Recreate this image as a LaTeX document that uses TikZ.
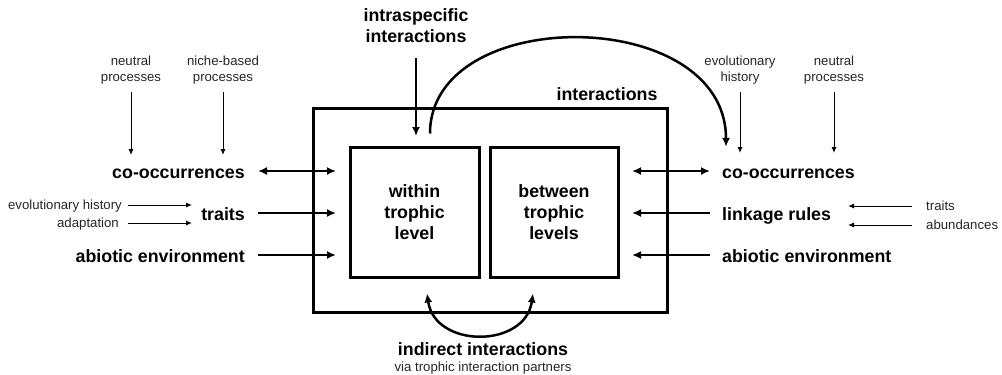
\documentclass[tikz,border=0pt]{standalone}
\usepackage{fontspec}
\setmainfont{Liberation Sans}
\usetikzlibrary{arrows.meta}
\begin{document}
\begin{tikzpicture}[x=1pt,y=-1pt,
  every node/.style={inner sep=0pt},
  bigfont/.style={font=\fontsize{17.8}{21}\selectfont\bfseries},
  smallfont/.style={font=\fontsize{13.2}{16}\selectfont, text=black!85},
  biglabel/.style={bigfont, text height=14pt, text depth=0pt},
  bigtext/.style={bigfont, align=center},
  smalllabel/.style={smallfont, text height=9.5pt, text depth=0pt},
  smalltext/.style={smallfont, align=center},
  boxst/.style={draw, line width=3pt},
  thickarr/.style={line width=2.5pt, -{Latex[length=9pt,width=8pt]}},
  thickdbl/.style={line width=2.5pt, {Latex[length=9pt,width=8pt]}-{Latex[length=9pt,width=8pt]}},
  thinarr/.style={line width=1pt, -{Latex[length=6pt,width=5pt]}},
]
\useasboundingbox (0,0) rectangle (1002,375);

% interaction boxes
\node[boxst, minimum width=354pt, minimum height=204pt] (outer) at (490,210) {};
\node[boxst, bigtext, minimum width=129pt, minimum height=130pt] (within) at (414.5,212) {within\\trophic\\level};
\node[boxst, bigtext, minimum width=128pt, minimum height=130pt] (between) at (554,212) {between\\trophic\\levels};
\node[bigfont, anchor=base] (intlab) at (607,100) {interactions};

% intraspecific interactions
\node[bigtext] (intra) at (416,26) {intraspecific\\interactions};
\coordinate (intraend) at (416,136);
\draw[thickarr] ([yshift=-15pt]intra.south) -- (intraend);

% left-hand drivers
\node[biglabel, anchor=east] (coocL) at (245,171) {co-occurrences};
\node[biglabel, anchor=east] (traitsL) at (245,213) {traits};
\node[biglabel, anchor=east] (abioL) at (245,255) {abiotic environment};
\coordinate (inL1) at (336,171);
\coordinate (inL2) at (336,213);
\coordinate (inL3) at (336,255);
\draw[thickdbl] ([xshift=13pt]coocL.east) -- (inL1);
\draw[thickarr] ([xshift=13pt]traitsL.east) -- (inL2);
\draw[thickarr] ([xshift=13pt]abioL.east) -- (inL3);

\node[smalltext] (neutL) at (131,70) {neutral\\processes};
\node[smalltext] (nicheL) at (223,70) {niche-based\\processes};
\coordinate (neutLend) at (131,155);
\coordinate (nicheLend) at (223,155);
\draw[thinarr] ([yshift=-8pt]neutL.south) -- (neutLend);
\draw[thinarr] ([yshift=-8pt]nicheL.south) -- (nicheLend);

\node[smalllabel, anchor=east] (evoL) at (122,205) {evolutionary history};
\node[smalllabel, anchor=east] (adaptL) at (119,223) {adaptation};
\coordinate (evoLend) at (192,205);
\coordinate (adaptLend) at (192,223);
\draw[thinarr] ([xshift=6pt]evoL.east) -- (evoLend);
\draw[thinarr] ([xshift=9pt]adaptL.east) -- (adaptLend);

% right-hand drivers
\node[biglabel, anchor=west] (coocR) at (722,171) {co-occurrences};
\node[biglabel, anchor=west] (linkR) at (722,213) {linkage rules};
\node[biglabel, anchor=west] (abioR) at (722,255) {abiotic environment};
\coordinate (outR1) at (632,171);
\coordinate (outR2) at (632,213);
\coordinate (outR3) at (632,255);
\draw[thickdbl] (outR1) -- ([xshift=-12pt]coocR.west);
\draw[thickarr] ([xshift=-12pt]linkR.west) -- (outR2);
\draw[thickarr] ([xshift=-12pt]abioR.west) -- (outR3);

\node[smalltext] (evoR) at (740,70) {evolutionary\\history};
\node[smalltext] (neutR) at (834,70) {neutral\\processes};
\coordinate (evoRend) at (740,153);
\coordinate (neutRend) at (834,153);
\draw[thinarr] ([yshift=-8pt]evoR.south) -- (evoRend);
\draw[thinarr] ([yshift=-8pt]neutR.south) -- (neutRend);

\node[smalllabel, anchor=west] (traitsR) at (926,206) {traits};
\node[smalllabel, anchor=west] (abundR) at (926,225) {abundances};
\coordinate (traitsRend) at (848,206);
\coordinate (abundRend) at (848,225);
\draw[thinarr] ([xshift=-14pt]traitsR.west) -- (traitsRend);
\draw[thinarr] ([xshift=-14pt]abundR.west) -- (abundRend);

% feedback from within-level interactions to co-occurrences
\draw[thickarr] ([xshift=15.5pt,yshift=12pt]within.north)
  .. controls +(0,-130) and +(0,-142) .. ([xshift=4pt,yshift=17pt]coocR.north west);

% indirect interactions between the two levels
\draw[line width=2.5pt, {Latex[length=9pt,width=8pt]}-{Latex[length=9pt,width=8pt]}]
  ([xshift=12.5pt,yshift=-15pt]within.south)
  .. controls +(8,55) and +(-8,55) .. ([xshift=-21pt,yshift=-15pt]between.south);
\node[bigfont, anchor=base] (indir) at (483,355) {indirect interactions};
\node[smallfont, anchor=base] (via) at (483,371) {via trophic interaction partners};
\end{tikzpicture}
\end{document}
